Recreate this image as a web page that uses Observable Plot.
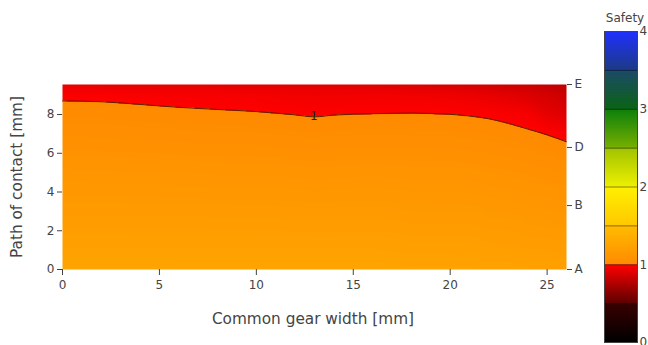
<!DOCTYPE html>
<html><head><meta charset="utf-8">
<script src="https://cdn.jsdelivr.net/npm/d3@7"></script>
<script src="https://cdn.jsdelivr.net/npm/@observablehq/plot@0.6"></script>
<style>
body{margin:0;background:#fff;font-family:"DejaVu Sans",sans-serif;}
#wrap{position:relative;width:648px;height:345px;overflow:hidden;background:#fff;}
#main,#bar{position:absolute;top:0;}
#main{left:0}
#bar{left:590px}
svg{max-width:none !important;}
.t{position:absolute;color:#444;white-space:nowrap;line-height:1;}
</style></head><body>
<div id="wrap">
  <div id="main"></div>
  <div id="bar"></div>
  <div class="t" style="left:313px;top:320px;transform:translate(-50%,-50%);font-size:15.3px">Common gear width [mm]</div>
  <div class="t" style="left:18px;top:177px;transform:translate(-50%,-50%) rotate(-90deg);font-size:15.3px">Path of contact [mm]</div>
  <div class="t" style="left:625px;top:18px;transform:translate(-50%,-50%);font-size:12px">Safety</div>
</div>
<script>
// Sample columns (common gear width, mm) and rows (path of contact, mm)
const widthX = [0, 2, 4, 6, 8, 10, 12, 13, 14, 16, 18, 20, 21, 22, 23, 24, 25, 26];
const pathY = [0, 6, 7, 8, 9, 9.55];
// Safety values, one array per row of pathY
const safetyY0   = [1.26, 1.26, 1.26, 1.26, 1.26, 1.26, 1.26, 1.26, 1.26, 1.26, 1.25, 1.25, 1.25, 1.24, 1.24, 1.23, 1.23, 1.22];
const safetyY6   = [1.081, 1.080, 1.077, 1.074, 1.071, 1.069, 1.065, 1.062, 1.064, 1.066, 1.064, 1.063, 1.061, 1.055, 1.049, 1.040, 1.031, 1.020];
const safetyY7   = [1.051, 1.050, 1.046, 1.043, 1.040, 1.037, 1.032, 1.029, 1.032, 1.034, 1.033, 1.032, 1.029, 1.024, 1.017, 1.008, 0.998, 0.986];
const safetyY8   = [1.021, 1.020, 1.016, 1.012, 1.008, 1.005, 0.9993, 0.996, 0.999, 1.001, 1.002, 1.0003, 0.9975, 0.993, 0.985, 0.976, 0.927, 0.905];
const safetyY9   = [0.991, 0.990, 0.985, 0.980, 0.977, 0.973, 0.962, 0.960, 0.962, 0.966, 0.962, 0.955, 0.945, 0.932, 0.915, 0.895, 0.870, 0.845];
const safetyTop  = [0.93, 0.93, 0.92, 0.92, 0.92, 0.91, 0.91, 0.91, 0.91, 0.90, 0.89, 0.88, 0.87, 0.86, 0.85, 0.84, 0.82, 0.80];
const safetyRows = [safetyY0, safetyY6, safetyY7, safetyY8, safetyY9, safetyTop];
// Safety = 1 iso-line (path of contact at each width)
const boundaryY = [8.70, 8.66, 8.52, 8.37, 8.26, 8.15, 7.98, 7.88, 7.97, 8.04, 8.07, 8.01, 7.92, 7.78, 7.54, 7.25, 6.95, 6.59];
const labelX = [12.96];
const labelY = [7.9];
const labelText = ["1"];
// Axes
const xTicks = [0, 5, 10, 15, 20, 25];
const yTicks = [0, 2, 4, 6, 8];
const pointTicks = [0, 3.3, 6.3, 9.55];
const pointLabels = ["A", "B", "D", "E"];
// Colour bar
const barTicks = [0, 1, 2, 3, 4];
const barTickLabels = ["0", "1", "2", "3", "4"];
const bandEdges = [0.5, 1, 1.5, 2, 2.5, 3, 3.5];
const colorStops = [0, 0.4999, 0.5, 0.9999, 1, 1.4999, 1.5, 1.9999, 2, 2.4999, 2.5, 2.9999, 3, 3.4999, 3.5, 4];
const colorRange = ["#000000", "#380000", "#5c0000", "#ff0000", "#ff8a00", "#ffbc00", "#ffc800", "#fff000", "#eef000", "#a0c400", "#78b000", "#0c800c", "#0a6414", "#1c4a68", "#1c3a84", "#2030ff"];

const points = [];
pathY.forEach((y, i) => widthX.forEach((x, j) => points.push({x, y, v: safetyRows[i][j]})));
const boundary = widthX.map((x, i) => ({x, y: boundaryY[i]}));
const labels = labelX.map((x, i) => ({x, y: labelY[i], text: labelText[i]}));

const colorScale = {type: "linear", domain: colorStops, range: colorRange, interpolate: "rgb"};
const font = {fontFamily: "DejaVu Sans", fontSize: "12px", color: "#444", background: "transparent", overflow: "visible"};

const main = Plot.plot({
  width: 648, height: 345,
  marginLeft: 62, marginRight: 82, marginTop: 84, marginBottom: 76,
  style: font,
  x: {domain: [0, 26]},
  y: {domain: [0, 9.55]},
  color: colorScale,
  marks: [
    Plot.raster(points, {x: "x", y: "y", fill: "v", interpolate: "barycentric", pixelSize: 1}),
    Plot.line(boundary, {x: "x", y: "y", stroke: "#2a1000", strokeOpacity: 0.75, strokeWidth: 1, curve: "monotone-x"}),
    Plot.text(labels, {x: "x", y: "y", text: "text", fill: "#222", fontSize: 12}),
    Plot.axisX(xTicks, {anchor: "bottom", tickSize: 6, tickPadding: 5, label: null}),
    Plot.axisY(yTicks, {anchor: "left", tickSize: 5, tickPadding: 3, label: null}),
    Plot.axisY(pointTicks, {anchor: "right", tickSize: 5, tickPadding: 3, label: null,
      tickFormat: d => pointLabels[pointTicks.indexOf(d)]})
  ]
});
document.getElementById("main").append(main);

const bar = Plot.plot({
  width: 58, height: 345,
  marginLeft: 14, marginRight: 11, marginTop: 31, marginBottom: 3,
  style: font,
  x: {domain: [0, 1], axis: null},
  y: {domain: [0, 4], axis: null},
  color: colorScale,
  marks: [
    Plot.raster({x1: 0, x2: 1, y1: 0, y2: 4, fill: (x, y) => y, pixelSize: 1}),
    Plot.ruleY(bandEdges, {stroke: "#000", strokeOpacity: 0.45}),
    Plot.frame({stroke: "#444"}),
    Plot.axisY(barTicks, {anchor: "right", tickSize: 0, tickPadding: 2, label: null,
      tickFormat: d => barTickLabels[barTicks.indexOf(d)]})
  ]
});
document.getElementById("bar").append(bar);
</script>
</body></html>
